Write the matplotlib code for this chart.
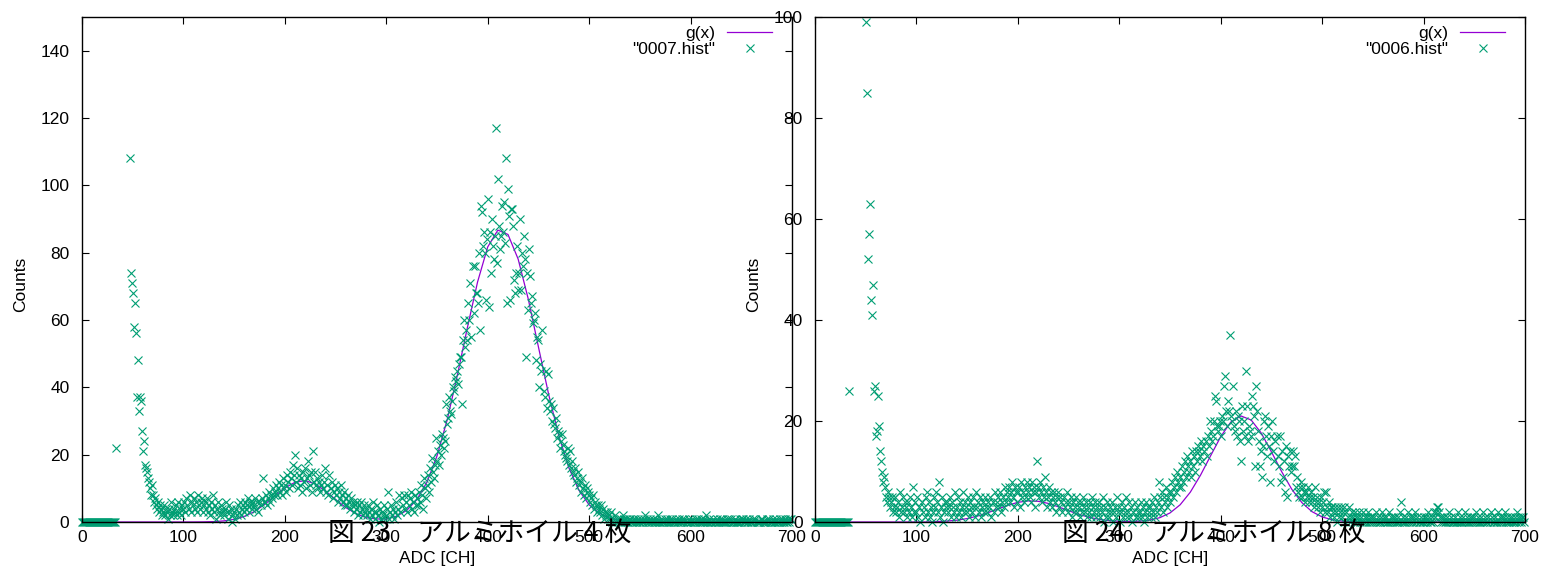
import numpy as np
import matplotlib
matplotlib.use("Agg")
import matplotlib.pyplot as plt

plt.rcParams["font.family"] = ["Liberation Sans", "DejaVu Sans"]

# ---- 0007.hist (aluminium foil x4) : counts per ADC channel ----
# channels 0..34
hist7_a_start = 0
hist7_a = [0] * 34 + [22]
# channels 47..699
hist7_b_start = 47
hist7_b = """
108 74 71
68 58 65 56 37 48 33 37 36 27
21 24 17 16 15 13 12 10 8 11
8 6 7 5 4 6 3 5 4 2
3 5 2 4 3 1 4 2 6 3
2 4 3 5 2 6 3 4 2 5
4 6 3 7 5 4 8 3 6 5
7 4 6 3 8 5 4 6 7 3
5 6 4 7 3 5 2 6 4 8
3 5 1 4 6 3 2 5 4 3
2 4 6 3 1 5 3 4 0 2
3 1 4 2 5 3 6 2 4 5
3 6 4 5 7 3 6 5 4 6
5 7 4 6 3 6 5 7 13 6
6 8 5 7 9 6 8 7 10 8
9 11 8 10 12 9 11 8 13 10
11 9 14 12 10 15 13 11 17 14
20 12 16 10 14 11 13 9 15 12
16 10 13 18 14 11 15 9 21 12
15 11 13 10 12 9 11 14 10 12
16 9 11 8 14 10 12 7 9 11
8 10 6 9 7 11 8 6 9 5
7 5 8 6 4 7 5 6 3 5
4 6 2 5 3 6 4 2 5 3
4 2 5 3 1 4 2 6 3 1
3 5 2 0 4 1 3 2 5 1
2 4 9 1 3 5 2 4 1 3
6 2 4 8 3 7 5 8 4 6
3 8 5 7 9 4 6 3 8 5
7 5 9 6 11 8 4 13 10 7
11 14 9 16 12 19 15 13 17 25
18 21 17 23 20 26 25 22 24 35
29 31 37 33 32 36 40 39 43 42
45 41 47 49 49 35 54 60 52 57
54 65 60 71 55 76 62 76 68 68
65 80 57 94 92 82 86 80 66 84
96 64 86 74 90 82 78 85 117 77
102 88 81 85 94 86 95 83 108 65
99 91 66 93 93 88 72 68 74 82
69 74 90 69 80 76 85 78 49 74
63 81 73 65 67 59 60 62 48 55
54 40 47 45 57 39 37 45 34 44
36 33 35 30 34 29 28 31 25 27
26 22 24 26 23 21 20 19 18 22
17 21 16 18 15 14 16 12 13 15
11 12 9 13 10 8 11 7 10 9
8 6 7 5 8 4 6 5 3 5
4 3 5 2 4 1 3 2 3 1
2 1 3 0 1 2 0 1 0 1
0 1 0 2 1 0 1 0 0 1
1 0 0 1 0 1 0 0 1 0
0 1 0 0 1 2 0 1 0 0
1 0 0 1 0 0 1 0 2 0
0 1 0 0 0 1 0 1 0 0
1 0 1 0 0 0 1 0 0 1
0 0 1 0 1 0 0 0 1 0
0 1 0 0 0 1 0 1 0 0
1 0 0 1 0 2 0 0 1 0
0 0 1 0 0 0 1 0 0 1
0 1 0 0 0 0 1 0 1 0
1 0 0 0 1 0 0 0 0 1
0 1 1 0 0 1 0 0 1 0
0 0 1 0 1 0 0 0 0 1
1 0 0 0 0 1 0 1 0 0
0 1 0 0 1 0 0 0 1 0
1 0 0 1 0 0 1 0 1 1
"""

# ---- 0006.hist (aluminium foil x8) ----
hist6_a_start = 0
hist6_a = [0] * 34 + [26]
hist6_b_start = 50
hist6_b = """
99 85 52 57 63 44 41 47 26 27
17 18 25 19 14 12 10 8 9 7
5 4 6 5 3 4 5 2 3 5
2 3 4 1 6 2 3 5 2 4
3 1 4 2 5 3 1 7 2 4
2 5 1 3 0 4 2 3 1 5
6 2 4 1 3 0 2 5 3 6
4 2 8 1 3 5 0 2 4 3
4 2 3 5 1 4 3 2 6 1
3 5 2 4 1 3 6 2 4 3
2 5 1 4 3 2 5 3 1 6
3 4 2 5 1 3 4 2 5 3
2 4 3 5 1 4 2 6 3 4
5 3 6 2 4 5 3 7 4 6
5 7 4 6 8 5 3 7 6 4
6 7 3 8 5 6 4 7 5 8
6 7 5 4 8 6 7 3 6 12
7 5 8 6 4 7 5 9 6 3
5 7 4 6 3 5 6 4 2 5
6 3 5 4 2 5 3 4 6 2
4 3 5 1 4 2 3 5 2 4
3 1 4 2 5 3 2 4 1 3
2 4 1 5 3 2 4 1 3 2
4 1 3 2 5 0 3 1 4 2
1 3 2 4 0 2 3 1 5 2
3 0 2 4 1 3 2 5 1 2
4 1 3 0 2 4 1 3 2 1
2 4 1 3 0 2 4 1 3 2
3 1 4 2 5 1 3 2 4 8
5 3 6 2 5 4 7 3 5 6
4 6 8 5 7 9 6 10 8 7
9 7 11 8 10 12 9 13 11 10
12 9 14 11 13 10 14 12 15 14
13 16 12 15 14 16 13 17 15 20
18 16 17 20 25 24 19 18 19 20
17 21 20 27 29 22 19 24 22 37
21 20 27 19 18 22 17 21 20 16
12 23 18 20 17 30 23 16 19 18
17 25 23 21 11 27 22 18 16 11
14 9 15 20 21 17 13 19 15 8
17 20 14 12 16 17 13 11 17 8
14 9 12 6 15 5 13 11 14 10
11 14 11 13 7 9 6 5 7 8
5 7 6 4 6 5 7 4 5 6
4 5 3 7 4 5 3 4 2 5
3 4 6 2 6 3 2 4 1 3
3 2 1 3 2 0 3 1 2 3
1 2 3 0 2 1 3 0 1 2
1 0 2 1 0 1 2 0 1 0
2 0 1 0 1 2 0 1 0 1
0 1 0 2 0 1 0 0 1 2
0 1 0 1 0 0 2 0 1 0
1 0 1 0 0 1 0 2 4 0
1 0 0 1 0 2 0 1 0 1
0 1 2 0 1 0 0 1 0 0
1 0 1 0 2 1 0 0 1 0
2 1 2 3 3 2 1 0 1 0
1 0 0 1 0 2 0 1 0 0
0 1 0 0 2 0 1 0 0 1
0 2 0 1 0 0 1 0 1 0
1 0 2 0 1 0 0 1 0 2
0 1 0 0 1 0 2 1 0 0
1 0 0 2 0 1 0 1 0 1
2 0 1 0 0 1 0 1 0 0
1 0 2 1 0 1 0 1 1 0
"""

# fitted g(x), read every 10 channels (0..700)
fit_step = 10
g7 = [0, 0, 0, 0, 0, 0, 0, 0, 0, 0,
      0.0, 0.01, 0.04, 0.12, 0.33, 0.79, 1.66, 3.1, 5.2, 7.7,
      10.1, 11.8, 12.3, 11.3, 9.2, 6.7, 4.3, 2.5, 1.3, 0.9,
      0.9, 1.7, 3.4, 6.6, 11.8, 19.6, 30.3, 43.5, 57.8, 71.3,
      81.7, 86.7, 85.4, 78.1, 66.2, 52.0, 38.0, 25.7, 16.1, 9.4,
      5.1, 2.6, 1.2, 0.5, 0.2, 0.07,
      0, 0, 0, 0, 0, 0, 0, 0, 0, 0, 0, 0, 0, 0, 0]
g6 = [0, 0, 0, 0, 0, 0, 0, 0, 0, 0, 0, 0,
      0.08, 0.18, 0.36, 0.68, 1.16, 1.8, 2.55, 3.3, 3.89, 4.18,
      4.1, 3.68, 3.0, 2.24, 1.52, 0.94, 0.53, 0.28, 0.15, 0.1,
      0.17, 0.37, 0.86, 1.79, 3.41, 5.9, 9.24, 13.1, 16.9, 19.8,
      21.0, 20.2, 17.6, 13.9, 10.0, 6.5, 3.84, 2.05, 1.0, 0.44,
      0.17, 0.06, 0.02,
      0, 0, 0, 0, 0, 0, 0, 0, 0, 0, 0, 0, 0, 0, 0, 0]

panels = [
    dict(a_start=hist7_a_start, a=hist7_a, b_start=hist7_b_start, b=hist7_b,
         g=g7, name='"0007.hist"', ymax=150, yticks=range(0, 141, 20),
         caption="図 23\u3000アルミホイル 4 枚", cap_x=328),
    dict(a_start=hist6_a_start, a=hist6_a, b_start=hist6_b_start, b=hist6_b,
         g=g6, name='"0006.hist"', ymax=100, yticks=range(0, 101, 20),
         caption="図 24\u3000アルミホイル 8 枚", cap_x=1062),
]

W, H = 1541, 572
FS = 12.5
fig = plt.figure(figsize=(W / 100, H / 100), dpi=100)
LINE_C = "#9400d3"
PT_C = "#009e73"

for i, p in enumerate(panels):
    left = [82, 815][i]
    ax = fig.add_axes([left / W, 50 / H, 710 / W, 505 / H])

    cnt_b = np.array(p["b"].split(), dtype=float)
    x = np.concatenate([p["a_start"] + np.arange(len(p["a"])),
                        p["b_start"] + np.arange(len(cnt_b))])
    y = np.concatenate([np.array(p["a"], dtype=float), cnt_b])
    gx = np.arange(len(p["g"])) * fit_step

    ln, = ax.plot(gx, p["g"], color=LINE_C, lw=0.9, label="g(x)")
    pts, = ax.plot(x, y, ls="none", marker="x", ms=5.5, mew=0.8,
                   color=PT_C, label=p["name"], clip_on=False)

    ax.set_xlim(0, 700)
    ax.set_ylim(0, p["ymax"])
    ax.set_xticks(range(0, 701, 100))
    ax.set_yticks(list(p["yticks"]))
    ax.tick_params(direction="in", top=True, right=True, length=5,
                   width=0.8, labelsize=FS)
    ax.tick_params(axis="y", pad=9)
    ax.tick_params(axis="x", pad=6)
    for s in ax.spines.values():
        s.set_linewidth(1.0)

    ax.set_xlabel("ADC [CH]", fontsize=FS)
    ax.xaxis.set_label_coords(0.5, -0.058)
    ax.set_ylabel("Counts", fontsize=FS)
    ax.yaxis.set_label_coords(-0.076, 0.47)

    leg1 = ax.legend(handles=[ln], loc="upper right", frameon=False,
                     markerfirst=False, fontsize=FS, handlelength=2.6,
                     handletextpad=0.7, borderpad=0, borderaxespad=0,
                     bbox_to_anchor=(0.972, 0.983))
    ax.add_artist(leg1)
    ax.legend(handles=[pts], loc="upper right", frameon=False,
              markerfirst=False, fontsize=FS, handlelength=2.6,
              handletextpad=0.7, borderpad=0, borderaxespad=0,
              bbox_to_anchor=(0.972, 0.951), numpoints=1)

    fig.text(p["cap_x"] / W, 1 - 533 / H, p["caption"], ha="left",
             va="center", fontsize=19.3,
             family=["Noto Sans CJK JP", "DejaVu Sans"])

fig.savefig("out.png", dpi=100)
